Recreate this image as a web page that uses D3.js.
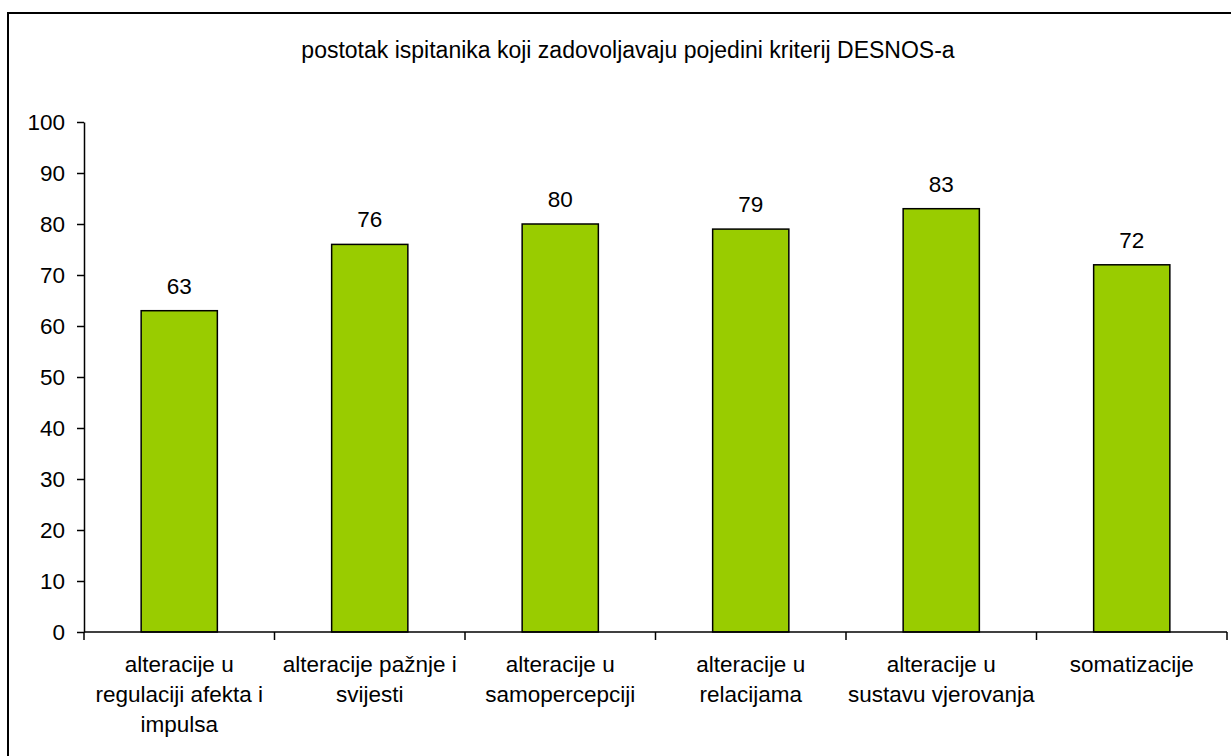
<!DOCTYPE html>
<html>
<head>
<meta charset="utf-8">
<script src="https://cdn.jsdelivr.net/npm/d3@7"></script>
<style>
  body { margin: 0; background: #fff; }
  svg text { font-family: "Liberation Sans", Arial, sans-serif; fill: #000; }
</style>
</head>
<body>
<div id="chart"></div>
<script>
// data
var categories = [
  "alteracije u\nregulaciji afekta i\nimpulsa",
  "alteracije pažnje i\nsvijesti",
  "alteracije u\nsamopercepciji",
  "alteracije u\nrelacijama",
  "alteracije u\nsustavu vjerovanja",
  "somatizacije"
];
var values = [63, 76, 80, 79, 83, 72];
var yTicks = [0, 10, 20, 30, 40, 50, 60, 70, 80, 90, 100];
var title = "postotak ispitanika koji zadovoljavaju pojedini kriterij DESNOS-a";

var W = 1231, H = 756;
var margin = { top: 122, left: 84, right: 4, bottom: 124 };
var fs = "22.5px";

var svg = d3
  .select("#chart")
  .append("svg")
  .attr("width", W)
  .attr("height", H);

// outer frame (only top & left visible in the reference)
svg
  .append("rect")
  .attr("x", 8)
  .attr("y", 13)
  .attr("width", W + 20)
  .attr("height", H + 20)
  .attr("fill", "none")
  .attr("stroke", "#000")
  .attr("stroke-width", 2);

svg
  .append("text")
  .attr("x", 628)
  .attr("y", 58)
  .attr("text-anchor", "middle")
  .style("font-size", "23px")
  .text(title);

var x = d3
  .scaleBand()
  .domain(categories)
  .range([margin.left, W - margin.right])
  .paddingInner(0.6)
  .paddingOuter(0.3);

var xAxisScale = d3
  .scaleBand()
  .domain(categories)
  .range([margin.left, W - margin.right]);

var y = d3
  .scaleLinear()
  .domain([0, 100])
  .range([H - margin.bottom, margin.top]);

// bars
svg
  .selectAll(".bar")
  .data(values)
  .enter()
  .append("rect")
  .attr("class", "bar")
  .attr("x", (d, i) => x(categories[i]))
  .attr("width", x.bandwidth())
  .attr("y", (d) => y(d))
  .attr("height", (d) => y(0) - y(d))
  .attr("fill", "#99cc00")
  .attr("stroke", "#000")
  .attr("stroke-width", 1.5);

// value labels
svg
  .selectAll(".val")
  .data(values)
  .enter()
  .append("text")
  .attr("class", "val")
  .attr("x", (d, i) => x(categories[i]) + x.bandwidth() / 2)
  .attr("y", (d) => y(d) - 17)
  .attr("text-anchor", "middle")
  .style("font-size", fs)
  .text((d) => d);

// y axis
var yAxis = svg
  .append("g")
  .attr("transform", "translate(" + margin.left + ",0)")
  .call(d3.axisLeft(y).tickValues(yTicks).tickSize(7).tickPadding(12).tickSizeOuter(0));
yAxis.selectAll("path, line").attr("stroke", "#000").attr("stroke-width", 1.5);
yAxis.selectAll("text").style("font-size", fs).attr("fill", "#000");

// x axis: ticks at band boundaries
var xg = svg
  .append("g")
  .attr("transform", "translate(0," + y(0) + ")");
xg.append("line")
  .attr("x1", margin.left)
  .attr("x2", W - margin.right)
  .attr("stroke", "#000")
  .attr("stroke-width", 1.5);
var bounds = categories.map((c) => xAxisScale(c)).concat([W - margin.right]);
xg.selectAll(".xt")
  .data(bounds)
  .enter()
  .append("line")
  .attr("x1", (d) => d)
  .attr("x2", (d) => d)
  .attr("y1", 0)
  .attr("y2", 8)
  .attr("stroke", "#000")
  .attr("stroke-width", 1.5);

// category labels
var lab = xg
  .selectAll(".cat")
  .data(categories)
  .enter()
  .append("text")
  .attr("class", "cat")
  .attr("text-anchor", "middle")
  .style("font-size", fs)
  .attr("transform", (d) => "translate(" + (xAxisScale(d) + xAxisScale.bandwidth() / 2) + ",0)");
lab
  .selectAll("tspan")
  .data((d) => d.split("\n"))
  .enter()
  .append("tspan")
  .attr("x", 0)
  .attr("y", (d, i) => 40 + i * 30)
  .text((d) => d);
</script>
</body>
</html>
